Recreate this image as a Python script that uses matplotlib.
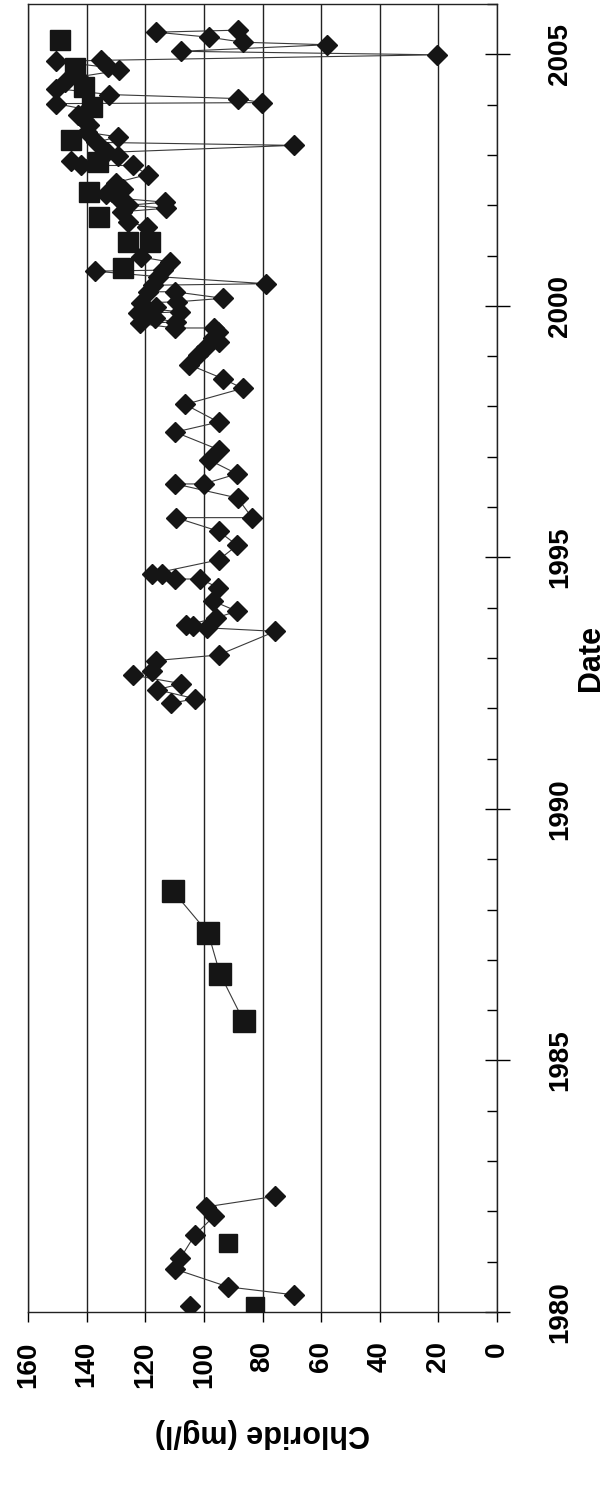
import numpy as np
import matplotlib.pyplot as plt

plt.rcParams['font.family'] = ['Liberation Sans', 'DejaVu Sans']
plt.rcParams['font.weight'] = 'bold'

nan = np.nan

# Diamond series: sample date (decimal year) and chloride (mg/l); nan breaks the line
dia_dates = [1980.12, nan,
             1980.34, 1980.50, 1980.85, 1981.07, 1981.53, 1981.90, 1982.09, 1982.30, nan,
             1992.10, 1992.19, 1992.37, 1992.49, 1992.66, 1992.74, 1992.95, 1993.06,
             1993.53, 1993.60, 1993.63, 1993.65, 1993.80, 1993.93, 1994.13, 1994.40,
             1994.57, 1994.57, 1994.67, 1994.67, 1994.95, 1995.24, 1995.52, 1995.79,
             1995.79, 1996.18, 1996.46, 1996.46, 1996.66, 1996.94, 1997.14, 1997.49,
             1997.69, 1998.04, 1998.36, 1998.55, 1998.83, 1999.02, 1999.19, 1999.29,
             1999.36, 1999.48, 1999.56, 1999.56, 1999.65, 1999.68, 1999.75, 1999.85,
             1999.88, 1999.95, 1999.98, 2000.06, 2000.08, 2000.15, 2000.28, 2000.28,
             2000.41, 2000.44, 2000.58, 2000.69, 2000.71, 2000.87, 2000.97, 2001.57,
             2001.67, 2001.87, 2001.94, 2002.00, 2002.06, 2002.14, 2002.23, 2002.26,
             2002.33, 2002.45, 2002.61, 2002.79, 2002.79, 2002.87, 2002.98, 2003.05,
             2003.19, 2003.25, 2003.36, 2003.45, 2003.59, 2003.70, 2003.79, 2003.90,
             2004.02, 2004.04, 2004.12, 2004.20, 2004.32, 2004.44, 2004.55, 2004.68,
             2004.74, 2004.86, 2004.88, 2004.99, 2005.06, 2005.19, 2005.24, 2005.34,
             2005.44, 2005.48]
dia_chloride = [104.7, nan,
                69.1, 91.8, 109.7, 108.0, 103.1, 96.6, 99.2, 75.6, nan,
                111.2, 103.0, 116.0, 107.7, 124.2, 117.6, 116.2, 95.0,
                75.6, 99.0, 103.7, 106.0, 95.7, 88.7, 96.8, 95.1,
                101.3, 109.8, 114.4, 117.8, 95.0, 88.6, 95.0, 109.5,
                83.6, 88.5, 109.7, 100.1, 88.7, 98.3, 94.9, 109.8,
                95.0, 106.4, 86.8, 93.4, 105.0, 102.1, 99.3, 95.0,
                97.0, 95.3, 96.5, 110.0, 121.9, 109.6, 116.8, 122.5,
                108.0, 119.6, 116.2, 121.3, 109.0, 93.5, 110.0, 119.0,
                117.3, 78.8, 115.6, 137.2, 113.9, 111.6, 121.3, 119.5,
                125.8, 128.0, 113.0, 125.8, 113.1, 129.2, 133.4, 131.5,
                127.7, 130.0, 119.2, 124.3, 141.9, 145.4, 129.4, 133.0,
                69.4, 136.8, 129.4, 140.0, 139.1, 141.0, 143.0, 140.0,
                150.4, 80.3, 88.5, 132.2, 150.4, 147.5, 143.0, 128.8,
                132.7, 150.4, 135.1, 20.5, 107.8, 57.9, 86.7, 98.2,
                116.3, 88.4]

# Square series
sq_early_dates = [1980.12, 1981.37]
sq_early_chloride = [82.4, 91.9]
sq_mid_dates = [1985.78, 1986.72, 1987.53, 1988.37]
sq_mid_chloride = [86.4, 94.5, 98.5, 110.6]
sq_late_dates = [2000.75, 2001.27, 2001.27, 2001.77, 2002.26, 2002.85, 2003.29,
                 2003.95, 2004.35, 2004.72, 2005.29]
sq_late_chloride = [127.5, 125.8, 118.4, 135.9, 139.1, 136.0, 145.4,
                    138.0, 141.0, 144.0, 149.1]

W, H = 608, 1491
fig = plt.figure(figsize=(W / 100, H / 100), dpi=100)
ax = fig.add_axes([28 / W, 1 - 1312 / H, (497 - 28) / W, (1312 - 4) / H])

dark = '#151515'
ax.plot(dia_chloride, dia_dates, color='#3a3a3a', lw=0.8, marker='D', ms=10.5,
        mfc=dark, mec=dark, zorder=3)
ax.plot(sq_early_chloride, sq_early_dates, ls='none', marker='s', ms=13,
        mfc=dark, mec=dark, zorder=3)
ax.plot(sq_mid_chloride, sq_mid_dates, color='#3a3a3a', lw=0.8, marker='s', ms=16,
        mfc=dark, mec=dark, zorder=3)
ax.plot(sq_late_chloride, sq_late_dates, ls='none', marker='s', ms=14,
        mfc=dark, mec=dark, zorder=3)

# chloride axis (drawn along the bottom, reversed)
ax.set_xlim(160, 0)
ax.set_xticks(range(0, 161, 20))
ax.grid(axis='x', color='#222222', lw=1.0)
ax.tick_params(axis='x', direction='out', length=7, width=1, pad=14,
               labelsize=20, labelrotation=90)
ax.set_xlabel('Chloride (mg/l)', fontsize=22, fontweight='bold', rotation=180,
              labelpad=22)

# date axis (drawn on the right)
ax.set_ylim(1980, 2006)
ax.yaxis.tick_right()
ax.yaxis.set_label_position('right')
ax.set_yticks(range(1980, 2006, 5))
ax.set_yticks(range(1980, 2007), minor=True)
ax.tick_params(axis='y', which='major', direction='inout', length=18, width=1,
               pad=27, labelsize=20, labelrotation=90)
ax.tick_params(axis='y', which='minor', direction='in', length=7, width=1)
for lab in ax.get_yticklabels():
    lab.set_va('center')
ax.set_ylabel('Date', fontsize=22, fontweight='bold', rotation=90, labelpad=2)

for s in ax.spines.values():
    s.set_color('#222222')
    s.set_linewidth(1.0)

plt.savefig('out.png', dpi=100)
